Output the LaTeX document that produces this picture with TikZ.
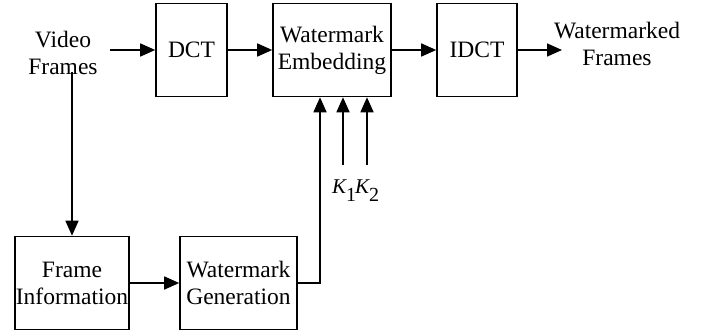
\documentclass[tikz,border=0pt]{standalone}
\usepackage{fontspec}
\setmainfont{Liberation Serif}
\usetikzlibrary{arrows.meta}
\begin{document}
\begin{tikzpicture}[x=1pt,y=-1pt,
  every node/.style={font=\fontsize{23.5}{27}\selectfont, align=center, inner sep=0pt},
  blk/.style={draw, line width=1.6pt, minimum height=93pt},
  conn/.style={line width=1.6pt, -{Triangle[length=15pt,width=13pt]}},
  wire/.style={line width=1.6pt}]
\useasboundingbox (0,0) rectangle (708,334);
% top row
\node[blk, minimum width=71pt]  (dct)  at (191.5,50) {DCT};
\node[blk, minimum width=118pt] (emb)  at (332,50) {Watermark\\Embedding};
\node[blk, minimum width=80pt]  (idct) at (477,50) {IDCT};
% bottom row
\node[blk, minimum width=114pt] (info) at (72,283) {Frame\\Information};
\node[blk, minimum width=117pt] (gen)  at (238.5,283) {Watermark\\Generation};
% input and output labels
\node (vid) at (63,53) {Video\\Frames};
\node (out) at (617,44) {Watermarked\\Frames};
\coordinate (vin)  at (110,50);
\coordinate (vdn)  at (72,72);
\coordinate (oend) at (562,50);
\coordinate (bend) at (320,283);
% key labels
\node[anchor=base west] (k1) at (332,193) {\fontsize{21}{24}\selectfont\itshape K\upshape\raisebox{-8pt}{\fontsize{20}{22}\selectfont 1}};
\node[anchor=base west] (k2) at (355,193) {\fontsize{21}{24}\selectfont\itshape K\upshape\raisebox{-8pt}{\fontsize{20}{22}\selectfont 2}};
\coordinate (k1t) at (343,165);
\coordinate (k2t) at (367,165);
% connectors
\draw[conn] (vin) -- (dct.west |- vin);
\draw[conn] (dct) -- (emb);
\draw[conn] (emb) -- (idct);
\draw[conn] (idct.east |- oend) -- (oend);
\draw[conn] (vdn) -- (info.north -| vdn);
\draw[conn] (info.east |- bend) -- (gen.west |- bend);
\draw[conn] (gen.east |- bend) -- (bend) -- (emb.south -| bend);
\draw[conn] (k1t) -- (emb.south -| k1t);
\draw[conn] (k2t) -- (emb.south -| k2t);
\end{tikzpicture}
\end{document}
